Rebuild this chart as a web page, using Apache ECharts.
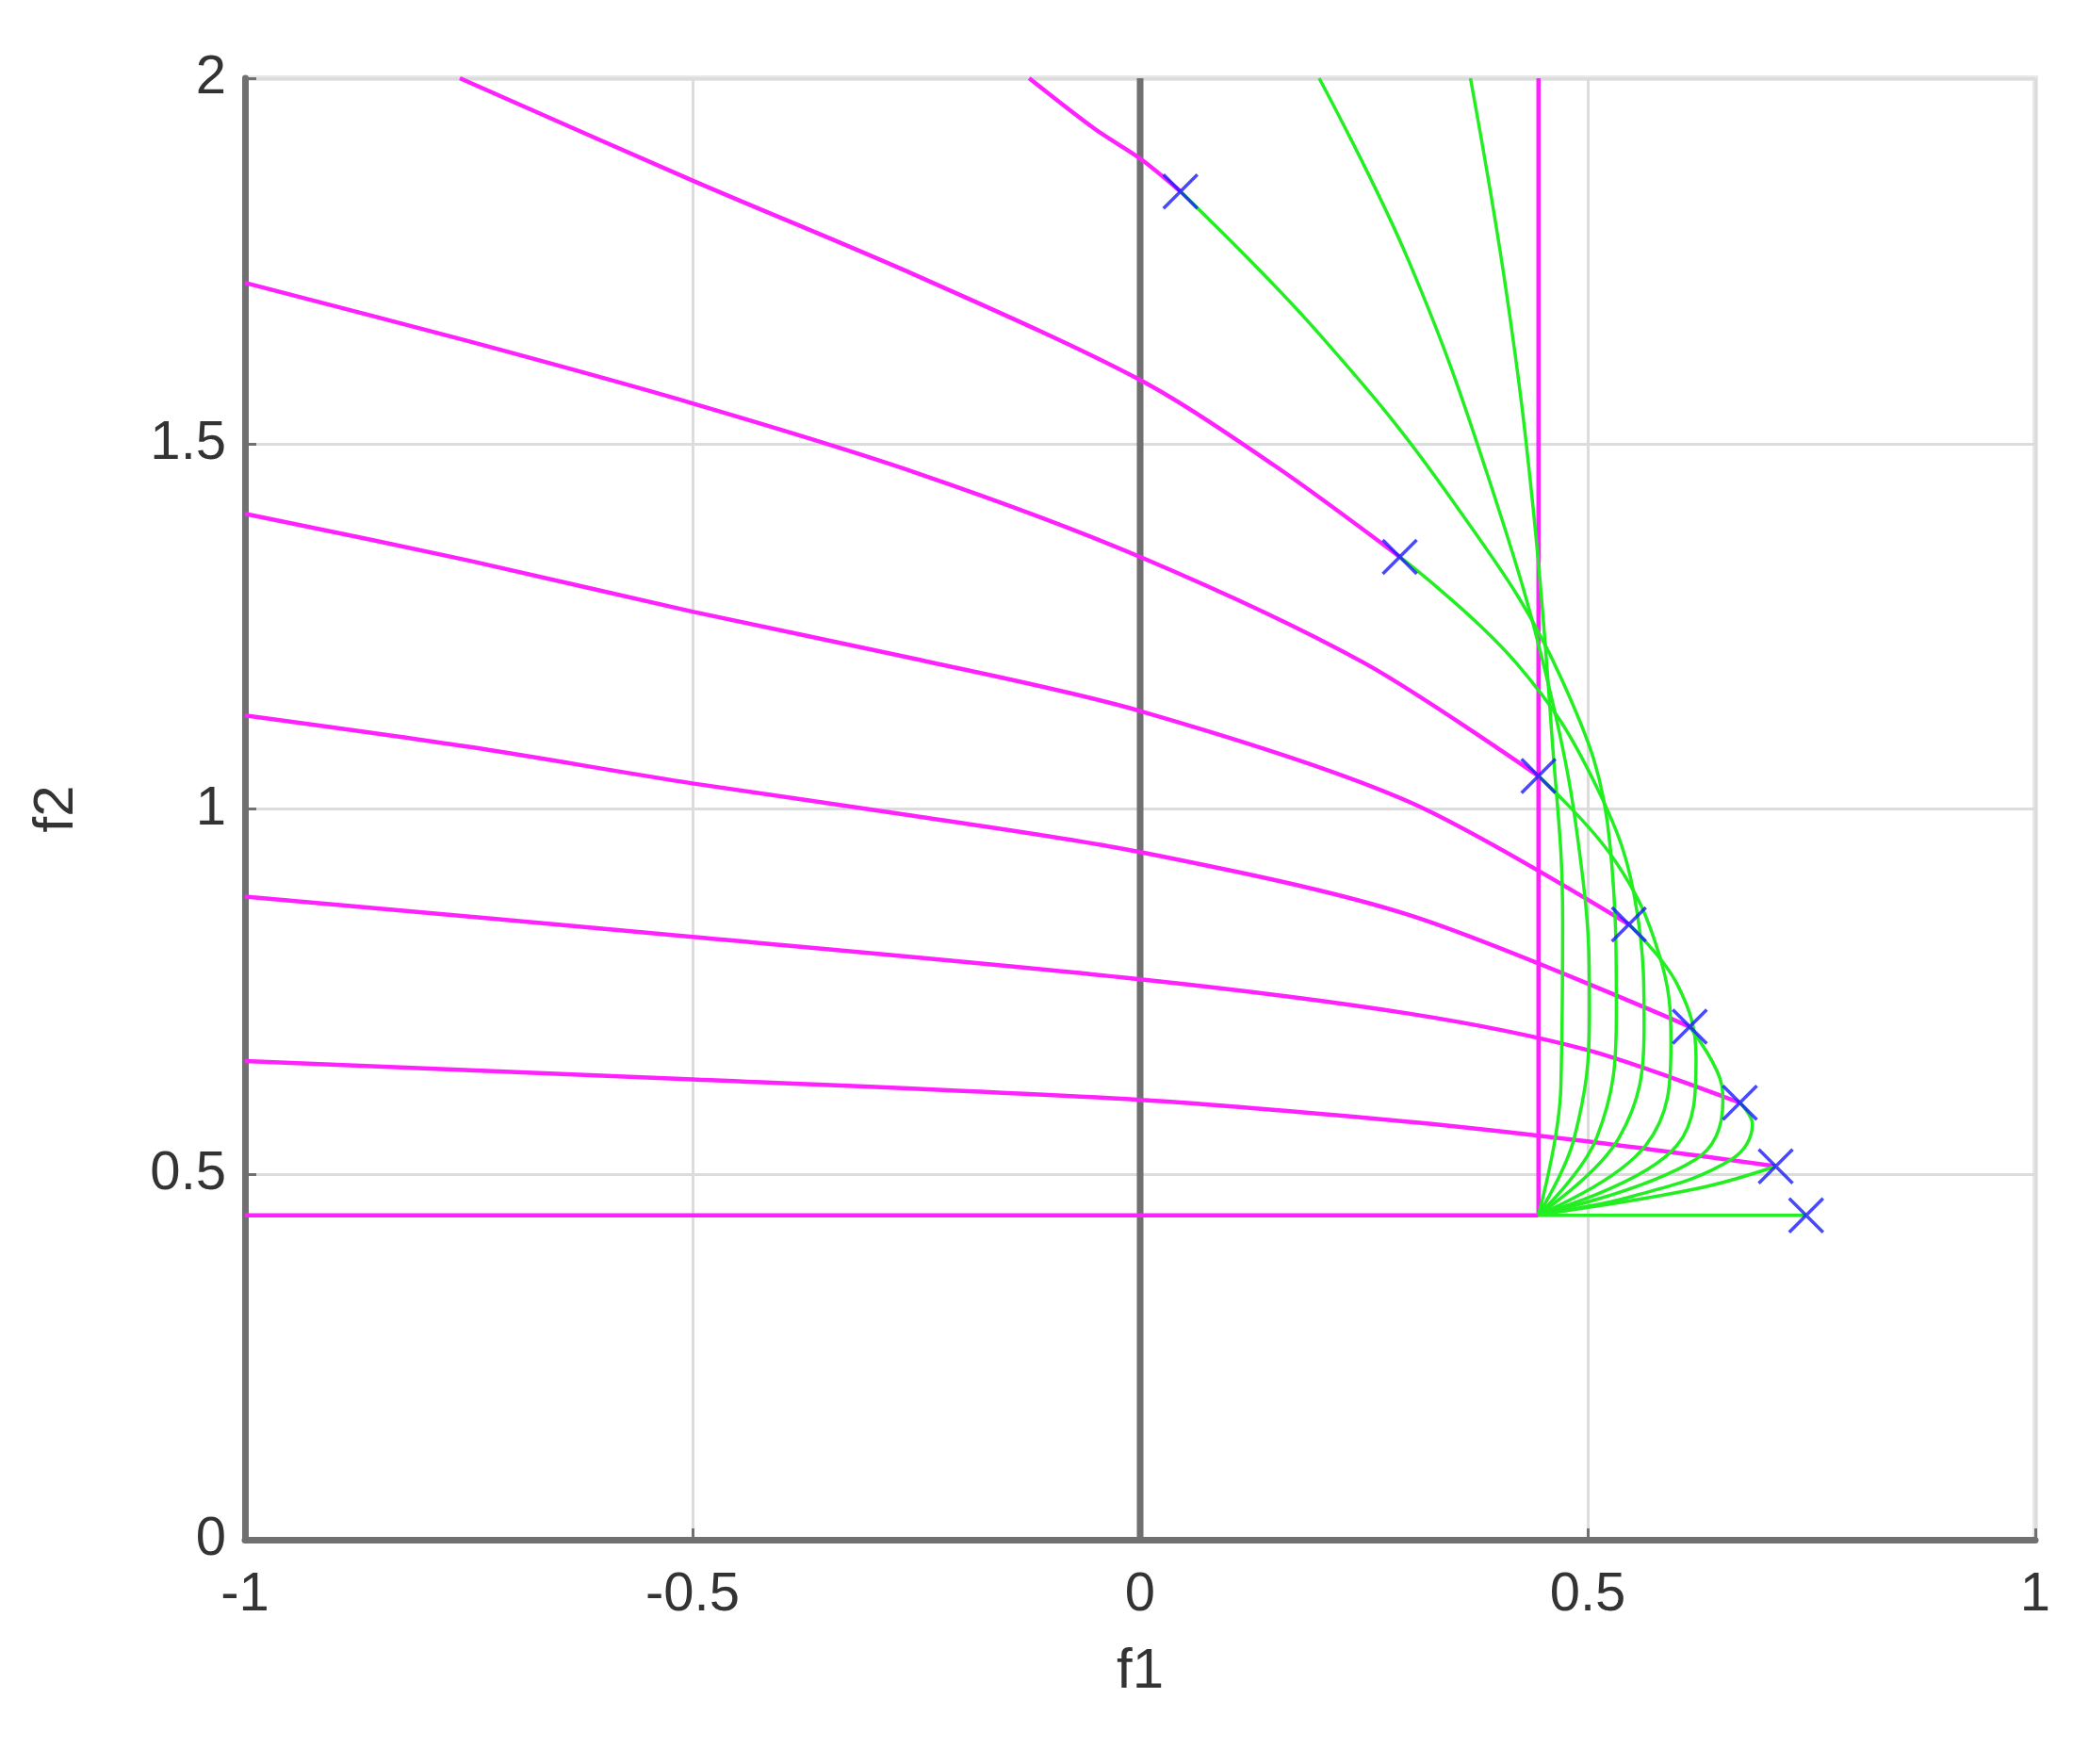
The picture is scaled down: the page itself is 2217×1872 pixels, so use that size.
<!DOCTYPE html>
<html><head><meta charset="utf-8">
<script src="https://cdn.jsdelivr.net/npm/echarts@6/dist/echarts.min.js"></script>
<style>html,body{margin:0;padding:0;background:#fff}#c{width:2217px;height:1872px}</style>
</head><body><div id="c"></div>
<script>
// magenta curves (f1,f2)
var magenta = [
  [[-0.124,2],[-0.05,1.93],[0,1.89],[0.045,1.845]],
  [[-0.76,2],[-0.5,1.86],[-0.25,1.73],[0,1.587],[0.15,1.47],[0.29,1.345]],
  [[-1,1.72],[-0.75,1.64],[-0.5,1.555],[-0.25,1.46],[0,1.345],[0.25,1.2],[0.445,1.045]],
  [[-1,1.404],[-0.75,1.34],[-0.5,1.27],[-0.25,1.205],[0,1.134],[0.3,1.01],[0.546,0.842]],
  [[-1,1.128],[-0.75,1.085],[-0.5,1.035],[-0.25,0.99],[0,0.941],[0.3,0.855],[0.614,0.702]],
  [[-1,0.88],[-0.5,0.825],[0,0.767],[0.3,0.72],[0.5,0.67],[0.67,0.598]],
  [[-1,0.655],[-0.5,0.63],[0,0.602],[0.3,0.572],[0.5,0.545],[0.71,0.511]],
  [[-1,0.444],[0.445,0.444]],
  [[0.445,0.444],[0.445,2]]
];
// green curves
var green = [
  [[0.369,2],[0.41,1.7],[0.44,1.4],[0.46,1.1],[0.472,0.85],[0.47,0.62],[0.445,0.445]],
  [[0.2,2],[0.3,1.75],[0.39,1.45],[0.46,1.15],[0.495,0.9],[0.502,0.72],[0.485,0.55],[0.445,0.445]],
  [[0.045,1.845],[0.2,1.65],[0.35,1.42],[0.47,1.18],[0.525,0.95],[0.532,0.72],[0.51,0.55],[0.445,0.445]],
  [[0.29,1.345],[0.42,1.2],[0.51,1.03],[0.555,0.86],[0.563,0.7],[0.535,0.55],[0.445,0.445]],
  [[0.445,1.045],[0.53,0.93],[0.58,0.8],[0.593,0.68],[0.565,0.54],[0.445,0.445]],
  [[0.546,0.842],[0.6,0.76],[0.621,0.66],[0.6,0.54],[0.445,0.445]],
  [[0.614,0.702],[0.645,0.64],[0.651,0.6],[0.62,0.52],[0.445,0.445]],
  [[0.67,0.598],[0.684,0.569],[0.66,0.52],[0.55,0.47],[0.445,0.445]],
  [[0.71,0.511],[0.62,0.48],[0.445,0.445]],
  [[0.744,0.444],[0.445,0.444]]
];
// blue crosses
var crosses = [[0.045,1.845],[0.29,1.345],[0.445,1.045],[0.546,0.842],[0.614,0.702],[0.67,0.598],[0.71,0.511],[0.744,0.444]];

var chart = echarts.init(document.getElementById('c'));
var series = [];
series.push({type:'line',data:[[0,0],[0,2]],symbol:'none',silent:true,lineStyle:{color:'#707070',width:7},z:1});
magenta.forEach(function(d){
  series.push({type:'line',data:d,symbol:'none',smooth:0.3,lineStyle:{color:'#ff22ff',width:4.5},z:2});
});
green.forEach(function(d){
  series.push({type:'line',data:d,symbol:'none',smooth:0.4,lineStyle:{color:'#22ee22',width:3.5},z:3});
});
series.push({type:'scatter',data:crosses,symbol:'path://M0,0L10,10M10,0L0,10',symbolSize:36,
  itemStyle:{color:'none',borderColor:'#1a1aff',borderWidth:3.5},z:5});

var axisFont = {fontFamily:'Liberation Sans',fontSize:58,color:'#333'};
chart.setOption({
  animation:false,
  grid:{left:260,right:57,top:83,bottom:238,show:true,borderColor:'#e8e8e8',borderWidth:6},
  xAxis:{type:'value',min:-1,max:1,interval:0.5,name:'f1',nameLocation:'middle',nameGap:110,
    nameTextStyle:{fontFamily:'Liberation Sans',fontSize:60,color:'#333'},
    axisLine:{onZero:false,lineStyle:{color:'#707070',width:7}},
    axisTick:{inside:true,length:12,lineStyle:{color:'#707070',width:3}},
    axisLabel:Object.assign({margin:30,formatter:function(v){return v;}},axisFont),
    splitLine:{lineStyle:{color:'#dcdcdc',width:3}}},
  yAxis:{type:'value',min:0,max:2,interval:0.5,name:'f2',nameLocation:'middle',nameGap:170,
    nameTextStyle:{fontFamily:'Liberation Sans',fontSize:60,color:'#333'},
    axisLine:{onZero:false,lineStyle:{color:'#707070',width:7}},
    axisTick:{inside:true,length:12,lineStyle:{color:'#707070',width:3}},
    axisLabel:Object.assign({margin:20},axisFont),
    splitLine:{lineStyle:{color:'#dcdcdc',width:3}}},
  series:series
});
</script></body></html>
